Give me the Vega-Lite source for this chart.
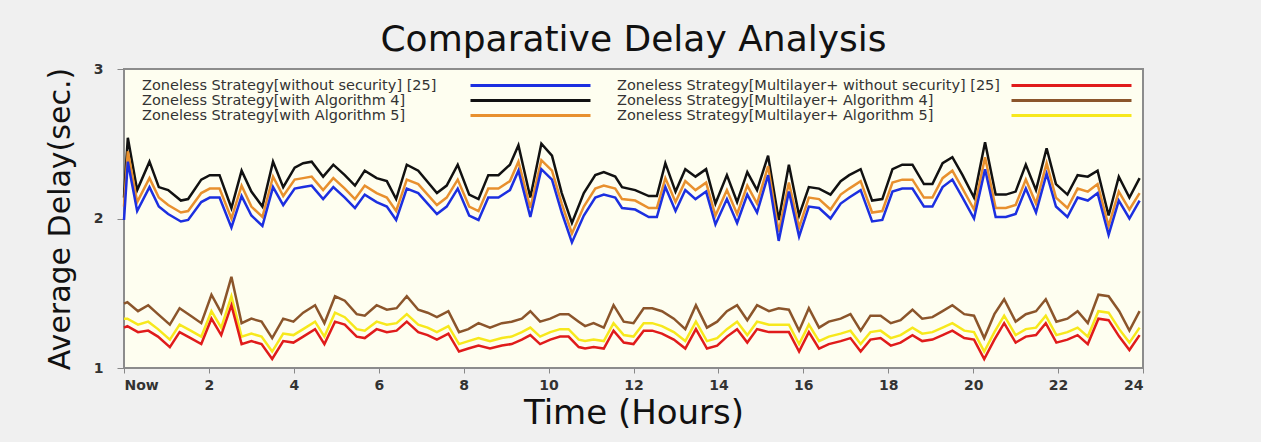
{
  "$schema": "https://vega.github.io/schema/vega-lite/v6.json",
  "width": 1019,
  "height": 299,
  "padding": {"left": 45, "top": 22, "right": 119, "bottom": 12},
  "background": "#f0f0f0",
  "title": {"text": "Comparative Delay Analysis", "fontSize": 36, "font": "DejaVu Sans", "fontWeight": "normal", "color": "#111111", "offset": 3, "frame": "group"},
  "config": {
    "view": {"fill": "#fefef0", "stroke": "#8c8c8c", "strokeWidth": 2},
    "axis": {"domain": false, "grid": false, "tickColor": "#888888", "labelFont": "DejaVu Sans", "labelFontSize": 14, "labelFontWeight": "bold", "labelColor": "#333333", "titleFont": "DejaVu Sans", "titleFontWeight": "normal", "titleColor": "#111111", "labelOverlap": false},
    "axisX": {"tickSize": 5, "labelPadding": 5, "titleFontSize": 34, "titlePadding": 4},
    "axisY": {"tickSize": 7, "labelPadding": 14, "titleFontSize": 30, "titlePadding": 18}
  },
  "datasets": {
    "top": [
      {"t":0,"B":1.99,"O":2.08,"K":2.14},
      {"t":0.09,"B":2.38,"O":2.45,"K":2.54},
      {"t":0.31,"B":2.05,"O":2.11,"K":2.19},
      {"t":0.6,"B":2.21,"O":2.27,"K":2.38},
      {"t":0.82,"B":2.08,"O":2.14,"K":2.21},
      {"t":1.04,"B":2.03,"O":2.09,"K":2.19},
      {"t":1.34,"B":1.98,"O":2.04,"K":2.12},
      {"t":1.51,"B":1.99,"O":2.05,"K":2.13},
      {"t":1.82,"B":2.11,"O":2.17,"K":2.26},
      {"t":2.02,"B":2.14,"O":2.2,"K":2.29},
      {"t":2.25,"B":2.14,"O":2.2,"K":2.29},
      {"t":2.53,"B":1.94,"O":2.0,"K":2.07},
      {"t":2.77,"B":2.15,"O":2.22,"K":2.32},
      {"t":3.0,"B":2.02,"O":2.08,"K":2.18},
      {"t":3.26,"B":1.95,"O":2.01,"K":2.08},
      {"t":3.51,"B":2.21,"O":2.28,"K":2.38},
      {"t":3.75,"B":2.09,"O":2.15,"K":2.21},
      {"t":4.02,"B":2.2,"O":2.26,"K":2.34},
      {"t":4.22,"B":2.21,"O":2.27,"K":2.37},
      {"t":4.42,"B":2.22,"O":2.28,"K":2.38},
      {"t":4.69,"B":2.13,"O":2.19,"K":2.28},
      {"t":4.93,"B":2.21,"O":2.27,"K":2.36},
      {"t":5.2,"B":2.14,"O":2.2,"K":2.29},
      {"t":5.44,"B":2.07,"O":2.13,"K":2.22},
      {"t":5.67,"B":2.16,"O":2.22,"K":2.32},
      {"t":5.95,"B":2.11,"O":2.17,"K":2.27},
      {"t":6.19,"B":2.08,"O":2.14,"K":2.25},
      {"t":6.41,"B":1.99,"O":2.05,"K":2.13},
      {"t":6.66,"B":2.2,"O":2.26,"K":2.36},
      {"t":6.93,"B":2.17,"O":2.23,"K":2.32},
      {"t":7.37,"B":2.03,"O":2.09,"K":2.17},
      {"t":7.6,"B":2.08,"O":2.14,"K":2.22},
      {"t":7.86,"B":2.2,"O":2.26,"K":2.36},
      {"t":8.13,"B":2.02,"O":2.08,"K":2.16},
      {"t":8.35,"B":1.99,"O":2.05,"K":2.13},
      {"t":8.58,"B":2.14,"O":2.2,"K":2.29},
      {"t":8.82,"B":2.14,"O":2.2,"K":2.29},
      {"t":9.09,"B":2.19,"O":2.25,"K":2.36},
      {"t":9.29,"B":2.32,"O":2.38,"K":2.49},
      {"t":9.57,"B":2.01,"O":2.07,"K":2.14},
      {"t":9.83,"B":2.33,"O":2.39,"K":2.5},
      {"t":10.08,"B":2.26,"O":2.32,"K":2.42},
      {"t":10.31,"B":2.04,"O":2.1,"K":2.17},
      {"t":10.55,"B":1.84,"O":1.9,"K":1.97},
      {"t":10.83,"B":2.02,"O":2.08,"K":2.17},
      {"t":11.1,"B":2.14,"O":2.2,"K":2.29},
      {"t":11.3,"B":2.16,"O":2.22,"K":2.31},
      {"t":11.57,"B":2.14,"O":2.2,"K":2.28},
      {"t":11.73,"B":2.07,"O":2.13,"K":2.21},
      {"t":12.04,"B":2.06,"O":2.12,"K":2.19},
      {"t":12.36,"B":2.01,"O":2.07,"K":2.15},
      {"t":12.55,"B":2.01,"O":2.07,"K":2.15},
      {"t":12.75,"B":2.21,"O":2.27,"K":2.37},
      {"t":12.99,"B":2.05,"O":2.11,"K":2.18},
      {"t":13.22,"B":2.19,"O":2.25,"K":2.33},
      {"t":13.46,"B":2.13,"O":2.19,"K":2.28},
      {"t":13.71,"B":2.18,"O":2.24,"K":2.33},
      {"t":13.93,"B":1.96,"O":2.02,"K":2.1},
      {"t":14.2,"B":2.13,"O":2.19,"K":2.29},
      {"t":14.44,"B":1.97,"O":2.03,"K":2.11},
      {"t":14.68,"B":2.16,"O":2.22,"K":2.31},
      {"t":14.91,"B":2.04,"O":2.1,"K":2.19},
      {"t":15.17,"B":2.29,"O":2.35,"K":2.42},
      {"t":15.42,"B":1.85,"O":1.91,"K":1.99},
      {"t":15.66,"B":2.18,"O":2.24,"K":2.36},
      {"t":15.9,"B":1.88,"O":1.94,"K":2.02},
      {"t":16.13,"B":2.08,"O":2.14,"K":2.21},
      {"t":16.37,"B":2.07,"O":2.13,"K":2.2},
      {"t":16.64,"B":2.0,"O":2.06,"K":2.16},
      {"t":16.88,"B":2.1,"O":2.16,"K":2.25},
      {"t":17.08,"B":2.14,"O":2.2,"K":2.29},
      {"t":17.35,"B":2.19,"O":2.25,"K":2.33},
      {"t":17.62,"B":1.98,"O":2.04,"K":2.12},
      {"t":17.86,"B":1.99,"O":2.05,"K":2.13},
      {"t":18.1,"B":2.18,"O":2.24,"K":2.33},
      {"t":18.33,"B":2.2,"O":2.26,"K":2.36},
      {"t":18.57,"B":2.2,"O":2.26,"K":2.36},
      {"t":18.84,"B":2.08,"O":2.14,"K":2.23},
      {"t":19.04,"B":2.08,"O":2.14,"K":2.23},
      {"t":19.28,"B":2.21,"O":2.27,"K":2.37},
      {"t":19.51,"B":2.26,"O":2.32,"K":2.41},
      {"t":19.75,"B":2.14,"O":2.2,"K":2.29},
      {"t":20.02,"B":2.0,"O":2.06,"K":2.14},
      {"t":20.28,"B":2.33,"O":2.41,"K":2.51},
      {"t":20.53,"B":2.01,"O":2.07,"K":2.16},
      {"t":20.77,"B":2.01,"O":2.07,"K":2.16},
      {"t":21.0,"B":2.03,"O":2.09,"K":2.18},
      {"t":21.24,"B":2.2,"O":2.26,"K":2.36},
      {"t":21.48,"B":2.04,"O":2.1,"K":2.19},
      {"t":21.73,"B":2.3,"O":2.37,"K":2.47},
      {"t":21.95,"B":2.08,"O":2.14,"K":2.23},
      {"t":22.22,"B":2.01,"O":2.07,"K":2.16},
      {"t":22.46,"B":2.14,"O":2.2,"K":2.29},
      {"t":22.7,"B":2.12,"O":2.18,"K":2.28},
      {"t":22.93,"B":2.17,"O":2.23,"K":2.32},
      {"t":23.19,"B":1.89,"O":1.95,"K":2.02},
      {"t":23.43,"B":2.12,"O":2.18,"K":2.28},
      {"t":23.68,"B":2.0,"O":2.06,"K":2.14},
      {"t":23.92,"B":2.12,"O":2.17,"K":2.27}
    ],
    "bottom": [
      {"t":0,"R":1.27,"Y":1.33,"N":1.43},
      {"t":0.08,"R":1.28,"Y":1.33,"N":1.44},
      {"t":0.33,"R":1.24,"Y":1.29,"N":1.38},
      {"t":0.57,"R":1.25,"Y":1.31,"N":1.42},
      {"t":0.8,"R":1.21,"Y":1.26,"N":1.36},
      {"t":1.08,"R":1.14,"Y":1.19,"N":1.29},
      {"t":1.31,"R":1.24,"Y":1.29,"N":1.4},
      {"t":1.57,"R":1.2,"Y":1.25,"N":1.35},
      {"t":1.82,"R":1.16,"Y":1.21,"N":1.3},
      {"t":2.06,"R":1.33,"Y":1.38,"N":1.49},
      {"t":2.29,"R":1.22,"Y":1.27,"N":1.37},
      {"t":2.53,"R":1.42,"Y":1.48,"N":1.61},
      {"t":2.77,"R":1.16,"Y":1.21,"N":1.3},
      {"t":3.0,"R":1.18,"Y":1.23,"N":1.33},
      {"t":3.24,"R":1.16,"Y":1.21,"N":1.31},
      {"t":3.49,"R":1.06,"Y":1.11,"N":1.2},
      {"t":3.75,"R":1.18,"Y":1.23,"N":1.33},
      {"t":3.99,"R":1.17,"Y":1.22,"N":1.31},
      {"t":4.22,"R":1.21,"Y":1.26,"N":1.37},
      {"t":4.5,"R":1.26,"Y":1.31,"N":1.42},
      {"t":4.72,"R":1.16,"Y":1.21,"N":1.3},
      {"t":4.97,"R":1.31,"Y":1.37,"N":1.48},
      {"t":5.2,"R":1.29,"Y":1.34,"N":1.45},
      {"t":5.48,"R":1.21,"Y":1.26,"N":1.36},
      {"t":5.67,"R":1.2,"Y":1.25,"N":1.35},
      {"t":5.95,"R":1.26,"Y":1.31,"N":1.42},
      {"t":6.19,"R":1.24,"Y":1.29,"N":1.39},
      {"t":6.42,"R":1.25,"Y":1.3,"N":1.4},
      {"t":6.66,"R":1.31,"Y":1.36,"N":1.48},
      {"t":6.93,"R":1.24,"Y":1.29,"N":1.39},
      {"t":7.15,"R":1.22,"Y":1.27,"N":1.37},
      {"t":7.37,"R":1.19,"Y":1.24,"N":1.34},
      {"t":7.64,"R":1.23,"Y":1.28,"N":1.38},
      {"t":7.89,"R":1.11,"Y":1.16,"N":1.24},
      {"t":8.11,"R":1.13,"Y":1.18,"N":1.26},
      {"t":8.35,"R":1.15,"Y":1.2,"N":1.3},
      {"t":8.62,"R":1.13,"Y":1.18,"N":1.27},
      {"t":8.9,"R":1.15,"Y":1.2,"N":1.3},
      {"t":9.13,"R":1.16,"Y":1.21,"N":1.31},
      {"t":9.37,"R":1.19,"Y":1.24,"N":1.33},
      {"t":9.57,"R":1.22,"Y":1.27,"N":1.38},
      {"t":9.8,"R":1.16,"Y":1.21,"N":1.31},
      {"t":10.04,"R":1.19,"Y":1.24,"N":1.33},
      {"t":10.27,"R":1.21,"Y":1.26,"N":1.36},
      {"t":10.47,"R":1.21,"Y":1.26,"N":1.36},
      {"t":10.71,"R":1.14,"Y":1.19,"N":1.31},
      {"t":10.86,"R":1.13,"Y":1.18,"N":1.28},
      {"t":11.06,"R":1.14,"Y":1.19,"N":1.3},
      {"t":11.3,"R":1.13,"Y":1.18,"N":1.27},
      {"t":11.53,"R":1.25,"Y":1.3,"N":1.42},
      {"t":11.77,"R":1.17,"Y":1.22,"N":1.31},
      {"t":12.0,"R":1.16,"Y":1.21,"N":1.3},
      {"t":12.24,"R":1.25,"Y":1.3,"N":1.4},
      {"t":12.44,"R":1.25,"Y":1.3,"N":1.4},
      {"t":12.67,"R":1.23,"Y":1.28,"N":1.38},
      {"t":12.95,"R":1.19,"Y":1.24,"N":1.33},
      {"t":13.22,"R":1.13,"Y":1.18,"N":1.26},
      {"t":13.47,"R":1.26,"Y":1.31,"N":1.42},
      {"t":13.73,"R":1.13,"Y":1.18,"N":1.27},
      {"t":13.97,"R":1.15,"Y":1.2,"N":1.31},
      {"t":14.2,"R":1.21,"Y":1.26,"N":1.38},
      {"t":14.44,"R":1.26,"Y":1.31,"N":1.42},
      {"t":14.68,"R":1.17,"Y":1.22,"N":1.32},
      {"t":14.91,"R":1.26,"Y":1.31,"N":1.42},
      {"t":15.19,"R":1.24,"Y":1.29,"N":1.38},
      {"t":15.42,"R":1.24,"Y":1.29,"N":1.4},
      {"t":15.66,"R":1.24,"Y":1.29,"N":1.39},
      {"t":15.9,"R":1.11,"Y":1.16,"N":1.25},
      {"t":16.13,"R":1.24,"Y":1.29,"N":1.4},
      {"t":16.37,"R":1.13,"Y":1.18,"N":1.27},
      {"t":16.6,"R":1.16,"Y":1.21,"N":1.31},
      {"t":16.88,"R":1.18,"Y":1.23,"N":1.33},
      {"t":17.11,"R":1.2,"Y":1.25,"N":1.36},
      {"t":17.35,"R":1.11,"Y":1.16,"N":1.25},
      {"t":17.58,"R":1.19,"Y":1.24,"N":1.35},
      {"t":17.82,"R":1.2,"Y":1.25,"N":1.35},
      {"t":18.06,"R":1.15,"Y":1.2,"N":1.3},
      {"t":18.29,"R":1.17,"Y":1.22,"N":1.32},
      {"t":18.57,"R":1.22,"Y":1.27,"N":1.39},
      {"t":18.8,"R":1.18,"Y":1.23,"N":1.33},
      {"t":19.04,"R":1.19,"Y":1.24,"N":1.34},
      {"t":19.28,"R":1.22,"Y":1.27,"N":1.38},
      {"t":19.51,"R":1.25,"Y":1.3,"N":1.42},
      {"t":19.79,"R":1.2,"Y":1.25,"N":1.36},
      {"t":20.02,"R":1.19,"Y":1.24,"N":1.35},
      {"t":20.26,"R":1.06,"Y":1.11,"N":1.2},
      {"t":20.5,"R":1.19,"Y":1.24,"N":1.36},
      {"t":20.73,"R":1.3,"Y":1.35,"N":1.46},
      {"t":21.0,"R":1.17,"Y":1.22,"N":1.31},
      {"t":21.24,"R":1.21,"Y":1.26,"N":1.36},
      {"t":21.48,"R":1.22,"Y":1.27,"N":1.38},
      {"t":21.71,"R":1.3,"Y":1.35,"N":1.46},
      {"t":21.96,"R":1.17,"Y":1.22,"N":1.31},
      {"t":22.22,"R":1.19,"Y":1.24,"N":1.33},
      {"t":22.46,"R":1.22,"Y":1.27,"N":1.38},
      {"t":22.7,"R":1.16,"Y":1.21,"N":1.3},
      {"t":22.95,"R":1.33,"Y":1.38,"N":1.49},
      {"t":23.19,"R":1.32,"Y":1.37,"N":1.48},
      {"t":23.44,"R":1.21,"Y":1.26,"N":1.38},
      {"t":23.68,"R":1.12,"Y":1.17,"N":1.25},
      {"t":23.92,"R":1.22,"Y":1.27,"N":1.38}
    ]
  },
  "encoding": {
    "x": {"field": "t", "type": "quantitative", "scale": {"domain": [0, 24], "nice": false},
          "axis": {"values": [0,2,4,6,8,10,12,14,16,18,20,22,24], "labelExpr": "datum.value == 0 ? 'Now' : datum.label", "title": "Time (Hours)"}},
    "y": {"field": "delay", "type": "quantitative", "scale": {"domain": [1, 3], "nice": false},
          "axis": {"values": [1, 2, 3], "labelExpr": "toString(round(datum.value))", "title": "Average Delay(sec.)"}}
  },
  "layer": [
    {
      "data": {"name": "top"},
      "transform": [{"fold": ["K", "O", "B"], "as": ["series", "delay"]}],
      "mark": {"type": "line", "strokeWidth": 2.5},
      "encoding": {
        "color": {"field": "series", "type": "nominal",
          "scale": {"domain": ["B", "K", "O"], "range": ["#1c2fe0", "#111111", "#e8902e"]},
          "legend": {"title": null, "orient": "none", "legendX": 18, "legendY": 8, "direction": "vertical", "padding": 0,
            "symbolType": "M-8.57,0L8.57,0", "symbolSize": 196, "symbolStrokeWidth": 3, "rowPadding": 0,
            "labelOffset": -397, "symbolOffset": 380, "labelLimit": 600, "labelFont": "DejaVu Sans", "labelFontSize": 14.5, "labelColor": "#333333",
            "labelExpr": "{'B': 'Zoneless Strategy[without security] [25]', 'K': 'Zoneless Strategy[with Algorithm 4]', 'O': 'Zoneless Strategy[with Algorithm 5]'}[datum.label]"}}
      }
    },
    {
      "data": {"name": "bottom"},
      "transform": [{"fold": ["N", "Y", "R"], "as": ["series2", "delay"]}],
      "mark": {"type": "line", "strokeWidth": 2.5},
      "encoding": {
        "stroke": {"field": "series2", "type": "nominal",
          "scale": {"domain": ["R", "N", "Y"], "range": ["#e01b1b", "#8b552b", "#f7e81c"]},
          "legend": {"title": null, "orient": "none", "legendX": 493, "legendY": 8, "direction": "vertical", "padding": 0,
            "symbolType": "M-8.57,0L8.57,0", "symbolSize": 196, "symbolStrokeWidth": 3, "rowPadding": 0,
            "labelOffset": -463, "symbolOffset": 446, "labelLimit": 600, "labelFont": "DejaVu Sans", "labelFontSize": 14.5, "labelColor": "#333333",
            "labelExpr": "{'R': 'Zoneless Strategy[Multilayer+ without security] [25]', 'N': 'Zoneless Strategy[Multilayer+ Algorithm 4]', 'Y': 'Zoneless Strategy[Multilayer+ Algorithm 5]'}[datum.label]"}}
      }
    }
  ]
}
